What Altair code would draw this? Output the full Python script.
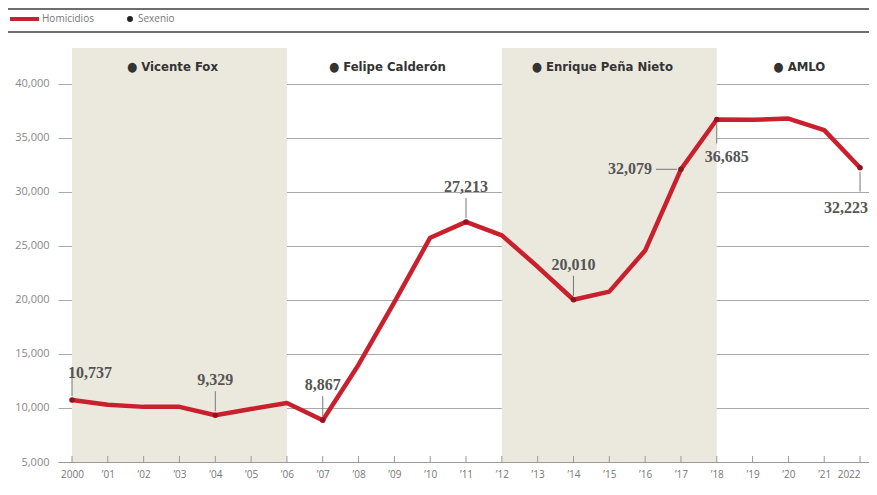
import altair as alt
import pandas as pd

# ---------------- data ----------------
years = list(range(2000, 2023))
homicides = [10737, 10300, 10100, 10100, 9329, 9900, 10450, 8867, 14000, 19800,
             25750, 27213, 25970, 23060, 20010, 20760, 24560, 32079, 36685, 36660,
             36770, 35700, 32223]
tick_labels = ["2000", "’01", "’02", "’03", "’04", "’05", "’06", "’07", "’08", "’09",
               "’10", "’11", "’12", "’13", "’14", "’15", "’16", "’17", "’18", "’19",
               "’20", "’21", "2022"]
y_ticks = [5000, 10000, 15000, 20000, 25000, 30000, 35000, 40000]

sexenio_names = ["Vicente Fox", "Felipe Calderón", "Enrique Peña Nieto", "AMLO"]
sexenio_label_at = [2003, 2009, 2015, 2020.5]
shaded_start = [2000, 2012]
shaded_end = [2006, 2018]

ann_above_left = [2000]
ann_above = [2004, 2007, 2011, 2014]
ann_left = [2017]
ann_below = [2018]
ann_below_end = [2022]

# ---------------- scales ----------------
X_DOMAIN = [1999.609, 2022.25]
Y_DOMAIN = [5000, 43300]
W, H = 811, 414

df = pd.DataFrame({"year": years, "value": homicides})
lookup = dict(zip(years, homicides))


def ann_df(ys):
    return pd.DataFrame({"year": ys, "value": [lookup[y] for y in ys]})


xs = alt.Scale(domain=X_DOMAIN, nice=False, zero=False)
ys = alt.Scale(domain=Y_DOMAIN, nice=False, zero=False)

RED = "#c9202e"
DOT = "#8e1420"
LEAD = "#777777"
LABEL_FONT = "Liberation Serif"
label_expr = "[" + ",".join("'" + t + "'" for t in tick_labels) + "][datum.value - 2000]"

x_axis = alt.Axis(
    values=years, labelExpr=label_expr, title=None, grid=False, ticks=False,
    domain=True, domainColor="#999999", domainWidth=1,
    labelFont="Open Sans", labelFontSize=10, labelColor="#777777",
    labelPadding=7, labelFlush=10)
y_axis = alt.Axis(
    values=y_ticks, format=",.0f", title=None, grid=True, gridColor="#a9a9a9",
    gridWidth=1, ticks=False, domain=False,
    labelFont="Open Sans", labelFontSize=11, labelColor="#888888",
    labelPadding=9)

X = alt.X("year:Q", scale=xs, axis=x_axis)
Y = alt.Y("value:Q", scale=ys, axis=y_axis)

# shaded bands
bands = alt.Chart(pd.DataFrame({"start": shaded_start, "end": shaded_end})).mark_rect(
    color="#ebe8de"
).encode(x=alt.X("start:Q", scale=xs, axis=x_axis), x2="end:Q")

# header labels
headers = alt.Chart(pd.DataFrame({
    "year": sexenio_label_at,
    "name": ["● " + n for n in sexenio_names]
})).mark_text(
    font="'Liberation Sans Narrow', 'DejaVu Sans Condensed', 'Roboto Condensed', Roboto",
    fontSize=13, fontWeight="bold", color="#333333", baseline="middle", dx=-7
).encode(x=X, y=alt.value(19), text="name:N")

line = alt.Chart(df).mark_line(color=RED, strokeWidth=4.5, strokeJoin="round").encode(x=X, y=Y)

# upward tick marks on x axis
ticks = alt.Chart(pd.DataFrame({"year": years, "value": [Y_DOMAIN[0]] * len(years)})).mark_rule(
    color="#999999", strokeWidth=1, y2Offset=-6
).encode(x=X, y=Y, y2="value:Q")

all_ann = ann_above_left + ann_above + ann_left + ann_below + ann_below_end
points = alt.Chart(ann_df(all_ann)).mark_circle(color=DOT, size=30, opacity=1).encode(x=X, y=Y)

# leaders
lead_up = alt.Chart(ann_df(ann_above_left + ann_above)).mark_rule(
    color=LEAD, strokeWidth=1, yOffset=-4, y2Offset=-24
).encode(x=X, y=Y, y2="value:Q")
lead_down = alt.Chart(ann_df(ann_below + ann_below_end)).mark_rule(
    color=LEAD, strokeWidth=1, yOffset=4, y2Offset=24
).encode(x=X, y=Y, y2="value:Q")
lead_left = alt.Chart(ann_df(ann_left)).mark_rule(
    color=LEAD, strokeWidth=1, xOffset=-4, x2Offset=-25
).encode(x=X, x2="year:Q", y=Y)

txt = dict(font=LABEL_FONT, fontSize=16, fontWeight="bold", color="#555555", baseline="middle")
fmt = alt.Text("value:Q", format=",.0f")
t_above_left = alt.Chart(ann_df(ann_above_left)).mark_text(align="left", dx=-4, dy=-27, **txt).encode(
    x=X, y=Y, text=fmt)
t_above = alt.Chart(ann_df(ann_above)).mark_text(align="center", dy=-35, **txt).encode(
    x=X, y=Y, text=fmt)
t_left = alt.Chart(ann_df(ann_left)).mark_text(align="right", dx=-29, dy=0, **txt).encode(
    x=X, y=Y, text=fmt)
t_below = alt.Chart(ann_df(ann_below)).mark_text(align="center", dx=10, dy=37, **txt).encode(
    x=X, y=Y, text=fmt)
t_below_end = alt.Chart(ann_df(ann_below_end)).mark_text(align="right", dx=8, dy=40, **txt).encode(
    x=X, y=Y, text=fmt)

# top legend strip
dummy = pd.DataFrame({"a": [0]})
top_rule1 = alt.Chart(dummy).mark_rule(color="#6e6e6e", strokeWidth=2).encode(
    x=alt.value(-50), x2=alt.value(W), y=alt.value(-39))
top_rule2 = alt.Chart(dummy).mark_rule(color="#6e6e6e", strokeWidth=2).encode(
    x=alt.value(-50), x2=alt.value(W), y=alt.value(-16))
leg_line = alt.Chart(dummy).mark_rule(color=RED, strokeWidth=4).encode(
    x=alt.value(-48), x2=alt.value(-19), y=alt.value(-29))
leg_t1 = alt.Chart(dummy).mark_text(text="Homicidios", align="left", baseline="middle",
                                     font="Open Sans", fontSize=10, color="#777777").encode(
    x=alt.value(-16), y=alt.value(-29))
leg_dot = alt.Chart(dummy).mark_circle(color="#222222", size=35, opacity=1).encode(
    x=alt.value(72), y=alt.value(-29))
leg_t2 = alt.Chart(dummy).mark_text(text="Sexenio", align="left", baseline="middle",
                                     font="Open Sans", fontSize=10, color="#777777").encode(
    x=alt.value(80), y=alt.value(-29))

chart = alt.layer(
    bands, line, ticks, headers, lead_up, lead_down, lead_left, points,
    t_above_left, t_above, t_left, t_below, t_below_end,
    top_rule1, top_rule2, leg_line, leg_t1, leg_dot, leg_t2
).properties(
    width=W, height=H,
    background="white",
    autosize=alt.AutoSizeParams(type="none"),
    padding={"left": 50, "top": 40, "right": 0, "bottom": 24},
).configure_view(stroke=None)

chart.save("out.html", embed_options={"renderer": "svg", "actions": False})
